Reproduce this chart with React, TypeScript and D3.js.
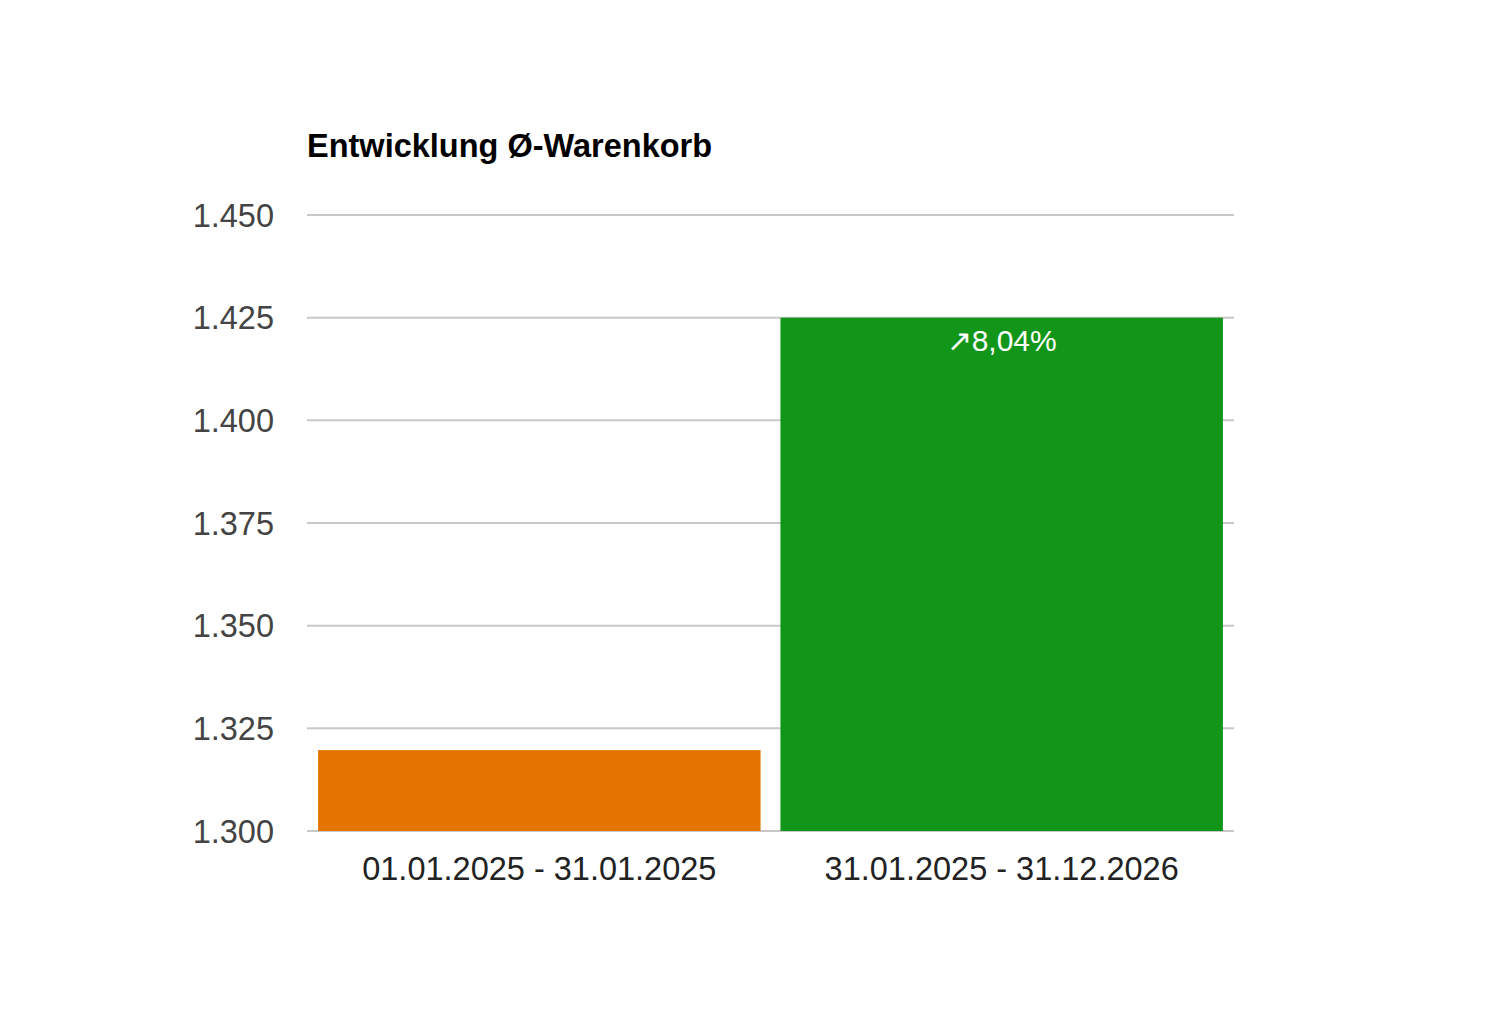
import React from 'react'
import * as d3 from 'd3'

const categories = ['01.01.2025 - 31.01.2025', '31.01.2025 - 31.12.2026']
const values = [1.3197, 1.425]
const barColors = ['#e57300', '#11961a']
const yTicks = [1.3, 1.325, 1.35, 1.375, 1.4, 1.425, 1.45]
const changeLabel = '↗8,04%'
const title = 'Entwicklung Ø-Warenkorb'

const width = 1510
const height = 1026
const margin = { top: 215, right: 276, bottom: 195, left: 307 }

const fmt = (v: number) => v.toFixed(3)

export default function App() {
  const innerWidth = width - margin.left - margin.right
  const innerHeight = height - margin.top - margin.bottom

  const x = d3.scaleBand<string>()
    .domain(categories)
    .range([0, innerWidth])
    .paddingInner(0.043)
    .paddingOuter(0.024)

  const y = d3.scaleLinear()
    .domain([1.3, 1.45])
    .range([innerHeight, 0])

  return (
    <svg
      width={width}
      height={height}
      style={{ position: 'absolute', left: 0, top: 0, background: '#fff' }}
      fontFamily="'Liberation Sans', Arial, sans-serif"
    >
      <text x={margin.left} y={157} fontSize={32.5} fontWeight="bold" fill="#000">
        {title}
      </text>
      <g transform={`translate(${margin.left},${margin.top})`}>
        {/* grid */}
        {yTicks.map(t => (
          <g key={t}>
            <line x1={0} x2={innerWidth} y1={y(t)} y2={y(t)} stroke="#c8c8c8" strokeWidth={2} />
            <text
              x={-33}
              y={y(t)}
              dy="0.36em"
              textAnchor="end"
              fontSize={32.5}
              fill="#444"
            >
              {fmt(t)}
            </text>
          </g>
        ))}
        {/* bars */}
        {categories.map((c, i) => (
          <rect
            key={c}
            x={x(c)}
            y={y(values[i])}
            width={x.bandwidth()}
            height={innerHeight - y(values[i])}
            fill={barColors[i]}
          />
        ))}
        {/* change label */}
        <text
          x={(x(categories[1]) ?? 0) + x.bandwidth() / 2}
          y={y(values[1]) + 33}
          textAnchor="middle"
          fontSize={30}
          fill="#fff"
        >
          {changeLabel}
        </text>
        {/* category labels */}
        {categories.map(c => (
          <text
            key={c}
            x={(x(c) ?? 0) + x.bandwidth() / 2}
            y={innerHeight + 49}
            textAnchor="middle"
            fontSize={32.5}
            fill="#222"
          >
            {c}
          </text>
        ))}
      </g>
    </svg>
  )
}
